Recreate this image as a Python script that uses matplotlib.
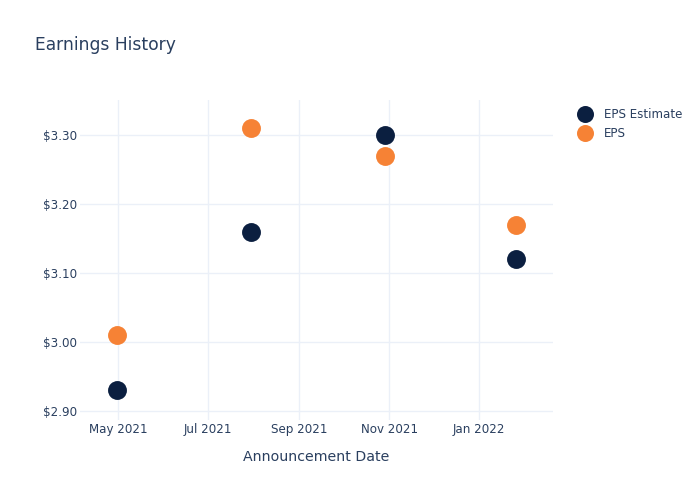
import numpy as np
import pandas as pd
import matplotlib
matplotlib.use('Agg')
import matplotlib.pyplot as plt
import matplotlib.dates as mdates
from matplotlib.ticker import FuncFormatter

dates = pd.to_datetime(['2021-04-30', '2021-07-30', '2021-10-29', '2022-01-26'])
eps_estimate = [2.93, 3.16, 3.30, 3.12]
eps_actual = [3.01, 3.31, 3.27, 3.17]

text_color = '#2a3f5f'
grid_color = '#ebf0f8'
est_color = '#0b1f40'
eps_color = '#f68235'

plt.rcParams['font.family'] = ['DejaVu Sans']

fig = plt.figure(figsize=(7, 5), dpi=100)
ax = fig.add_axes([0.114, 0.16, 0.676, 0.64])

ax.scatter(dates, eps_estimate, s=185, color=est_color, label='EPS Estimate', zorder=3, linewidths=0)
ax.scatter(dates, eps_actual, s=185, color=eps_color, label='EPS', zorder=3, linewidths=0)

ax.set_xlim(pd.Timestamp('2021-04-05'), pd.Timestamp('2022-02-20'))
ax.set_ylim(2.887, 3.351)

ax.set_yticks([2.9, 3.0, 3.1, 3.2, 3.3])
ax.yaxis.set_major_formatter(FuncFormatter(lambda v, p: '${:.2f}'.format(v)))
ax.xaxis.set_major_locator(mdates.MonthLocator(bymonth=[1, 3, 5, 7, 9, 11]))
ax.xaxis.set_major_formatter(mdates.DateFormatter('%b %Y'))

ax.grid(True, color=grid_color, linewidth=1)
ax.set_axisbelow(True)
for s in ax.spines.values():
    s.set_visible(False)
ax.tick_params(length=0, labelsize=8.6, labelcolor=text_color)
ax.tick_params(axis='x', pad=2)
ax.tick_params(axis='y', pad=2)

ax.set_xlabel('Announcement Date', fontsize=10.2, color=text_color, labelpad=10.5)
fig.text(0.05, 0.91, 'Earnings History', fontsize=12.3, color=text_color, va='center')

ax.legend(loc='upper left', bbox_to_anchor=(1.02, 1.01), frameon=False,
          fontsize=8.6, labelcolor=text_color, markerscale=0.9,
          handletextpad=0.6, labelspacing=0.5)

fig.savefig('out.png', dpi=100)
